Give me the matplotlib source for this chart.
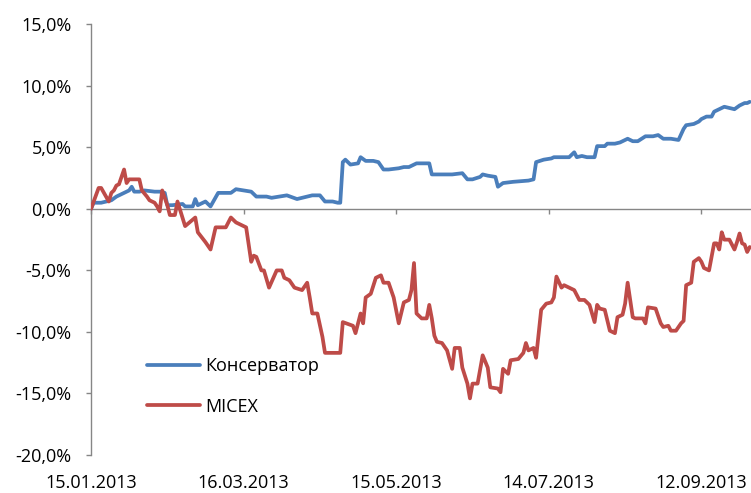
import matplotlib
matplotlib.use("Agg")
import matplotlib.pyplot as plt
import matplotlib.transforms as mtransforms
import numpy as np
import pandas as pd

start_date = "2013-01-15"

# Консерватор: days since start, value in %
cons_days = [0, 1, 4, 6, 8, 10, 13, 15, 16, 17, 19, 21, 25, 27, 29, 30, 32, 36, 37, 38, 40, 41,
             42, 45, 47, 50, 53, 55, 57, 60, 63, 65, 69, 71, 74, 77, 81, 83, 87, 90, 92, 95, 97,
             98, 99, 100, 102, 105, 106, 108, 111, 113, 115, 117, 121, 123, 125, 127, 128, 133,
             134, 136, 140, 142, 146, 148, 150, 153, 154, 156, 159, 160, 162, 166, 172, 174, 175,
             178, 181, 182, 183, 186, 188, 190, 191, 193, 195, 198, 199, 202, 203, 206, 208, 211,
             213, 215, 218, 221, 223, 225, 228, 231, 233, 234, 237, 239, 240, 242, 244, 245, 247,
             249, 251, 253, 255, 257, 258, 259]
cons_vals = [0.0, 0.5, 0.5, 0.6, 0.7, 1.0, 1.3, 1.5, 1.8, 1.4, 1.4, 1.5, 1.4, 1.4, 1.3, 0.3, 0.3,
             0.4, 0.2, 0.2, 0.2, 0.8, 0.3, 0.6, 0.2, 1.3, 1.3, 1.3, 1.6, 1.5, 1.4, 1.0, 1.0, 0.9,
             1.0, 1.1, 0.8, 0.9, 1.1, 1.1, 0.6, 0.6, 0.5, 0.5, 3.8, 4.0, 3.6, 3.7, 4.2, 3.9, 3.9,
             3.8, 3.2, 3.2, 3.3, 3.4, 3.4, 3.6, 3.7, 3.7, 2.8, 2.8, 2.8, 2.8, 2.9, 2.4, 2.4, 2.6,
             2.8, 2.7, 2.6, 1.8, 2.1, 2.2, 2.3, 2.4, 3.8, 4.0, 4.1, 4.2, 4.2, 4.2, 4.2, 4.6, 4.2,
             4.3, 4.2, 4.2, 5.1, 5.1, 5.3, 5.3, 5.4, 5.7, 5.5, 5.5, 5.9, 5.9, 6.0, 5.7, 5.7, 5.6,
             6.5, 6.8, 6.9, 7.1, 7.3, 7.5, 7.5, 7.9, 8.1, 8.3, 8.2, 8.1, 8.4, 8.6, 8.6, 8.7]

# MICEX: days since start, value in %
micex_days = [0, 3, 4, 7, 8, 9, 10, 11, 13, 14, 15, 17, 19, 20, 22, 23, 25, 26, 27, 28, 30, 31,
              33, 34, 37, 41, 42, 45, 47, 49, 53, 55, 57, 61, 63, 64, 65, 67, 68, 70, 73, 75, 76,
              78, 80, 83, 85, 86, 87, 89, 91, 92, 94, 98, 99, 103, 104, 106, 107, 108, 110, 112,
              114, 115, 117, 119, 121, 123, 125, 126, 127, 128, 130, 132, 133, 134, 135, 136, 138,
              140, 142, 143, 145, 146, 148, 149, 150, 152, 154, 156, 157, 160, 161, 162, 164, 165,
              168, 170, 171, 172, 174, 175, 177, 179, 181, 182, 183, 185, 186, 188, 190, 192, 194,
              196, 198, 199, 200, 202, 204, 206, 207, 209, 210, 211, 213, 214, 217, 218, 219, 222,
              224, 225, 227, 228, 230, 232, 233, 234, 236, 237, 239, 240, 241, 243, 245, 246, 247,
              248, 249, 251, 253, 254, 255, 256, 257, 258, 259]
micex_vals = [0.0, 1.7, 1.7, 0.6, 1.3, 1.5, 1.9, 2.0, 3.2, 2.1, 2.4, 2.4, 2.4, 1.5, 1.0, 0.7, 0.5,
              0.2, -0.2, 1.5, 0.3, -0.5, -0.5, 0.6, -1.4, -0.7, -1.9, -2.7, -3.3, -1.5, -1.5, -0.7,
              -1.1, -1.5, -4.3, -3.8, -3.9, -5.0, -5.0, -6.4, -5.0, -5.0, -5.6, -5.8, -6.4, -6.6,
              -6.0, -7.2, -8.5, -8.5, -10.4, -11.7, -11.7, -11.7, -9.2, -9.5, -10.1, -8.5, -9.3,
              -7.2, -6.9, -5.6, -5.4, -6.0, -6.0, -7.2, -9.3, -7.6, -7.4, -6.6, -4.4, -8.5, -8.9,
              -8.9, -7.8, -8.9, -10.3, -10.8, -10.9, -11.5, -13.0, -11.3, -11.3, -12.9, -14.2,
              -15.4, -14.2, -14.2, -11.9, -12.9, -14.5, -14.6, -14.9, -13.0, -13.4, -12.3, -12.2,
              -11.7, -10.9, -11.5, -11.3, -12.1, -8.2, -7.7, -7.6, -7.2, -5.5, -6.4, -6.2, -6.4,
              -6.6, -7.4, -7.4, -7.8, -9.2, -7.8, -8.1, -8.2, -9.9, -10.1, -8.8, -8.6, -7.7, -6.0,
              -8.8, -8.9, -8.9, -9.3, -8.0, -8.1, -9.3, -9.6, -9.5, -9.9, -9.9, -9.3, -9.1, -6.2,
              -6.0, -4.3, -4.0, -4.3, -4.8, -5.0, -2.8, -2.8, -3.3, -1.9, -2.5, -2.5, -3.3, -2.7,
              -2.0, -2.8, -2.9, -3.5, -3.1]

tick_days = [0, 60, 120, 180, 240]
tick_labels = ["15.01.2013", "16.03.2013", "15.05.2013", "14.07.2013", "12.09.2013"]
y_ticks = [15, 10, 5, 0, -5, -10, -15, -20]
y_tick_labels = ["15,0%", "10,0%", "5,0%", "0,0%", "-5,0%", "-10,0%", "-15,0%", "-20,0%"]

series_names = ["Консерватор", "MICEX"]

plt.rcParams["font.family"] = ["Open Sans", "DejaVu Sans"]

t0 = pd.Timestamp(start_date)
cons_dates = t0 + pd.to_timedelta(cons_days, unit="D")
micex_dates = t0 + pd.to_timedelta(micex_days, unit="D")
tick_dates = t0 + pd.to_timedelta(tick_days, unit="D")

W, H = 751, 493
fig = plt.figure(figsize=(W / 100, H / 100), dpi=100)
ax = fig.add_axes([91 / W, (H - 455) / H, (751 - 91) / W, (455 - 24.3) / H])

blue = "#4A7EBB"
red = "#BE4B48"
grey = "#868686"

ax.plot(cons_dates, cons_vals, color=blue, lw=2.7, solid_joinstyle="round",
        solid_capstyle="round", label=series_names[0], zorder=3)
ax.plot(micex_dates, micex_vals, color=red, lw=2.7, solid_joinstyle="round",
        solid_capstyle="round", label=series_names[1], zorder=3)

ax.set_xlim(t0, t0 + pd.Timedelta(days=259.5))
ax.set_ylim(-20, 15)

for s in ["top", "right"]:
    ax.spines[s].set_visible(False)
ax.spines["left"].set_color(grey)
ax.spines["left"].set_linewidth(1.0)
ax.spines["bottom"].set_color(grey)
ax.spines["bottom"].set_linewidth(1.0)
ax.spines["bottom"].set_position(("data", 0))

ax.set_yticks(y_ticks)
ax.set_yticklabels(y_tick_labels)
ax.tick_params(axis="y", direction="out", length=3.6, width=1.0, color=grey,
               pad=10.5, labelsize=13, labelcolor="black")

ax.set_xticks(tick_dates)
ax.set_xticklabels([""] * len(tick_dates))
ax.tick_params(axis="x", direction="out", length=3.6, width=1.0, color=grey)

trans = mtransforms.blended_transform_factory(ax.transData, ax.transAxes)
for d, lab in zip(tick_dates, tick_labels):
    ax.text(d, -0.066, lab, transform=trans, ha="center", va="center", fontsize=13,
            color="black", clip_on=False)

leg = ax.legend(loc="upper left", bbox_to_anchor=(147 / W, (H - 357) / H),
                bbox_transform=fig.transFigure, frameon=False, fontsize=13,
                handlelength=2.95, handletextpad=0.25, labelspacing=1.25,
                borderpad=0, borderaxespad=0)

fig.savefig("out.png", dpi=100)
